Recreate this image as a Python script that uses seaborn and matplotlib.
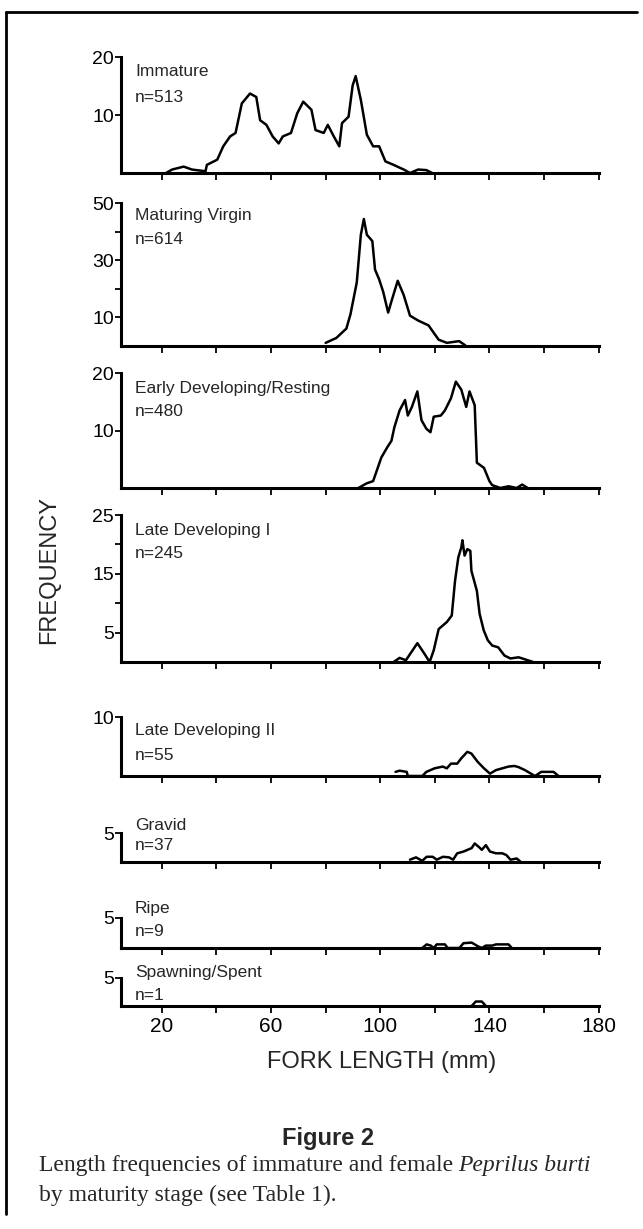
import numpy as np
import pandas as pd
import matplotlib
matplotlib.use("Agg")
import matplotlib.pyplot as plt
import seaborn as sns
from matplotlib.lines import Line2D

# DATA (fork length mm, frequency)

stages = ["Immature", "Maturing Virgin", "Early Developing/Resting", "Late Developing I",
          "Late Developing II", "Gravid", "Ripe", "Spawning/Spent"]
counts = ["n=513", "n=614", "n=480", "n=245", "n=55", "n=37", "n=9", "n=1"]

immature_x = [21.5, 23.8, 28, 31, 36, 36.5, 40.3, 42.5, 45, 47, 49.3, 52.3, 54.6, 56, 58.3, 60.6, 62.8, 64.3,
              67.3, 69.6, 71.8, 74.8, 76.3, 79.3, 80.8, 83, 85, 86, 88.4, 89.9, 91, 92.9, 95.1, 97.4, 99.6,
              101.9, 104.9, 108.6, 110.9, 113.9, 116.9, 119]
immature_y = [0, 0.6, 1.1, 0.6, 0.3, 1.4, 2.3, 4.6, 6.3, 6.9, 12, 13.7, 13.1, 9.1, 8.3, 6.3, 5.1, 6.3,
              6.9, 10.3, 12.3, 10.9, 7.4, 6.9, 8.3, 6.3, 4.6, 8.6, 9.7, 15.1, 16.7, 12.6, 6.6, 4.6, 4.6,
              2, 1.4, 0.6, 0, 0.6, 0.5, 0]

virgin_x = [80, 83.9, 87.6, 89.1, 91.4, 92.9, 94, 95.1, 97.1, 98.1, 99.6, 101.1, 102.9, 104.1, 106.4, 108.6,
            110.9, 113.9, 117.7, 121.4, 124.4, 128.9, 131.2]
virgin_y = [1.1, 2.8, 6.1, 11.1, 22.2, 38.9, 44.4, 38.9, 36.7, 26.7, 23.3, 18.9, 11.7, 15.6, 22.8, 17.8,
            10.6, 8.9, 7.2, 2.2, 1.1, 1.7, 0.2]

early_x = [92, 95, 97.4, 100.4, 102.6, 104.1, 105.2, 107.1, 109.1, 110.1, 111.6, 113.6, 115.1, 116.9, 118.4,
           119.6, 122.2, 123.7, 125.9, 127.7, 129.7, 131.5, 132.7, 134.6, 135.4, 138, 140, 141, 144, 147,
           150, 152, 154]
early_y = [0, 0.8, 1.2, 5.3, 7.1, 8.2, 10.6, 13.5, 15.3, 12.6, 14.1, 16.8, 11.8, 10.3, 9.7,
           12.4, 12.6, 13.5, 15.6, 18.5, 17.1, 14.1, 16.8, 14.4, 4.4, 3.5, 1.2, 0.5, 0, 0.3,
           0, 0.6, 0]

late1_x = [104.9, 107.1, 109.4, 113.6, 116.2, 118.1, 119.6, 121.4, 124.4, 126.2, 127.4, 128.6, 129.7, 130.1,
           130.9, 131.9, 133, 133.4, 135.4, 136.4, 137.9, 139.4, 141, 143.2, 145.5, 147.7, 150.7, 156]
late1_y = [0, 0.7, 0.3, 3.2, 1.4, 0, 2, 5.6, 6.8, 7.9, 13.8, 17.8, 19.5, 20.7,
           18.1, 19.2, 18.9, 15.5, 12.1, 8.2, 5.4, 3.7, 2.8, 2.5, 1.1, 0.6, 0.8, 0]

late2_x = [105.6, 107.1, 109.7, 110.1, 115.4, 116.9, 119.9, 122.9, 124.4, 125.9, 128.2, 129.7, 131.9, 133.4,
           135.7, 138, 140.2, 142.4, 144.7, 147, 149.2, 150.7, 153, 155.2, 156.7, 159, 163.5, 165.3]
late2_y = [0.7, 0.9, 0.7, 0, 0, 0.7, 1.3, 1.6, 1.3, 2.1, 2.1, 3.0, 4.1, 3.8,
           2.4, 1.3, 0.4, 1.0, 1.3, 1.6, 1.7, 1.5, 1.0, 0.4, 0, 0.7, 0.7, 0]

gravid_x = [110.9, 113.1, 115.4, 117, 119.2, 120.7, 123, 125.2, 126.7, 128.2, 130.5, 132, 133.5, 134.6,
            136.1, 137.2, 138.7, 140.2, 142.4, 144.7, 146.2, 147.7, 150, 151.5]
gravid_y = [0.4, 0.8, 0.2, 0.9, 0.9, 0.4, 0.9, 0.8, 0.4, 1.5, 1.8, 2.1, 2.4, 3.2,
            2.6, 2.1, 2.9, 1.8, 1.5, 1.5, 1.2, 0.4, 0.6, 0]

ripe_x = [115.4, 117, 118.5, 119.6, 120.7, 123.7, 124.7, 129, 130.5, 133.5, 135.7, 137.2, 138.7, 141,
          142.4, 147, 148.2]
ripe_y = [0, 0.6, 0.4, 0, 0.6, 0.6, 0, 0, 0.8, 0.9, 0.3, 0, 0.4, 0.4, 0.6, 0.6, 0]

spent_x = [133.5, 135, 137.2, 138.7]
spent_y = [0, 0.8, 0.8, 0]

series = [(immature_x, immature_y), (virgin_x, virgin_y), (early_x, early_y), (late1_x, late1_y),
          (late2_x, late2_y), (gravid_x, gravid_y), (ripe_x, ripe_y), (spent_x, spent_y)]
ymax = [20, 50, 20, 25, 10, 5, 5, 5]
ytick_major = [[10, 20], [10, 30, 50], [10, 20], [5, 15, 25], [10], [5], [5], [5]]
ytick_minor = [[], [20, 40], [], [10, 20], [], [], [], []]
xticks = [20, 40, 60, 80, 100, 120, 140, 160, 180]
xticklabels = ["20", "", "60", "", "100", "", "140", "", "180"]

# LAYOUT (pixel rows in the 1229 px figure: top of y range, baseline)

H = 1229
rows = [(57, 173), (203, 346), (373, 488), (515, 662), (717, 776), (833, 862), (918, 948), (978, 1006)]
label_rows = [(71, 97), (216, 240), (388, 412), (530, 554), (730, 755), (825, 845), (908, 932), (972, 995)]

sns.set_theme(style="white")
plt.rcParams['font.family'] = ['Liberation Sans', 'DejaVu Sans']
serif = ["Liberation Serif", "DejaVu Serif"]

fig = plt.figure(figsize=(6.43, 12.29), dpi=100)
left, right = 0.188, 0.931

for i, (xs, ys) in enumerate(series):
    top, base = rows[i]
    ax = fig.add_axes([left, 1 - base / H, right - left, (base - top) / H])
    df = pd.DataFrame({"length": xs, "freq": ys})
    sns.lineplot(data=df, x="length", y="freq", ax=ax, color="black", lw=1.8, sort=False)
    ax.set_xlim(5, 180)
    ax.set_ylim(0, ymax[i])
    ax.set_xlabel("")
    ax.set_ylabel("")
    for s in ["top", "right"]:
        ax.spines[s].set_visible(False)
    for s in ["left", "bottom"]:
        ax.spines[s].set_color("black")
        ax.spines[s].set_linewidth(2.2)
    ax.set_yticks(ytick_major[i])
    ax.set_yticks(ytick_minor[i], minor=True)
    ax.set_yticklabels([str(v) for v in ytick_major[i]], fontsize=14)
    ax.set_xticks(xticks)
    if i == len(series) - 1:
        ax.set_xticklabels(xticklabels, fontsize=15)
    else:
        ax.set_xticklabels([])
    ax.tick_params(axis="y", which="both", direction="out", length=4, width=1.3, left=True, pad=1, colors="black")
    ax.tick_params(axis="x", direction="out", length=5, width=1.3, bottom=True, pad=3, colors="black")
    ax.grid(False)
    ax.patch.set_alpha(0)
    ly1, ly2 = label_rows[i]
    fig.text(0.21, 1 - ly1 / H, stages[i], fontsize=12.5, va="center", ha="left")
    fig.text(0.21, 1 - ly2 / H, counts[i], fontsize=12.5, va="center", ha="left")

fig.text(0.077, 1 - 570 / H, "FREQUENCY", rotation=90, fontsize=17, va="center", ha="center")
fig.text(0.593, 1 - 1062 / H, "FORK LENGTH (mm)", fontsize=17, va="center", ha="center")
fig.text(0.51, 1 - 1138 / H, "Figure 2", fontsize=17, fontweight="bold", va="center", ha="center")
t1 = fig.text(0.06, 1 - 1166 / H, "Length frequencies of immature and female ", fontsize=17,
              family=serif, va="center", ha="left")
fig.canvas.draw()
bb = t1.get_window_extent().transformed(fig.transFigure.inverted())
fig.text(bb.x1, 1 - 1166 / H, "Peprilus burti", fontsize=17, style="italic",
         family=serif, va="center", ha="left")
fig.text(0.06, 1 - 1195 / H, "by maturity stage (see Table 1).", fontsize=17,
         family=serif, va="center", ha="left")

# page frame
fig.add_artist(Line2D([0.01, 0.01], [0.012, 0.99], transform=fig.transFigure, color="black", lw=2))
fig.add_artist(Line2D([0.01, 0.99], [0.99, 0.99], transform=fig.transFigure, color="black", lw=2))

fig.savefig("out.png", dpi=100, facecolor="white")
